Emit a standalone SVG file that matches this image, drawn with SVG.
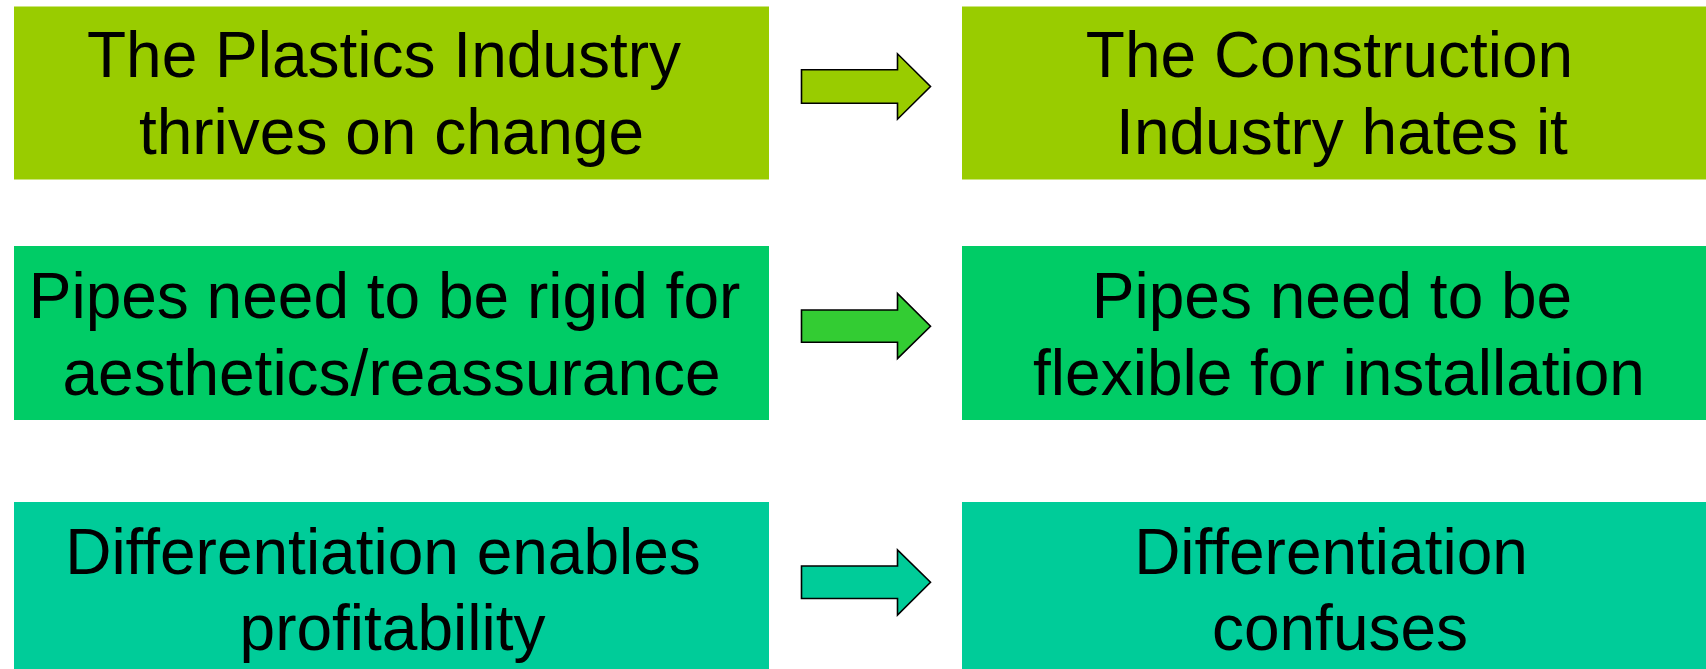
<svg xmlns="http://www.w3.org/2000/svg" width="1706" height="669" viewBox="0 0 1706 669">
<style>
.t{font-family:"Liberation Sans",Arial,sans-serif;font-size:64px;fill:#000;text-anchor:middle}
.a{stroke:#000;stroke-width:1.6;stroke-linejoin:miter}
.r1{fill:#99CC00}.r2{fill:#00CC66}.r3{fill:#00CC99}
</style>
<rect width="1706" height="669" fill="#fff"/>
<g id="plastics-change">
<rect class="r1" x="14" y="6.5" width="755" height="173"/>
<text class="t" x="384" y="77.3">The Plastics Industry</text>
<text class="t" x="391.5" y="154">thrives on change</text>
</g>
<g id="construction-hates">
<rect class="r1" x="962" y="6.5" width="755" height="173"/>
<text class="t" x="1329.5" y="77.3">The Construction</text>
<text class="t" x="1342" y="154">Industry hates it</text>
</g>
<g id="pipes-rigid">
<rect class="r2" x="14" y="246" width="755" height="174"/>
<text class="t" x="384.5" y="318.3">Pipes need to be rigid for</text>
<text class="t" x="391.5" y="395">aesthetics/reassurance</text>
</g>
<g id="pipes-flexible">
<rect class="r2" x="962" y="246" width="755" height="174"/>
<text class="t" x="1332" y="318.3">Pipes need to be</text>
<text class="t" x="1339" y="395">flexible for installation</text>
</g>
<g id="diff-profit">
<rect class="r3" x="14" y="502" width="755" height="174"/>
<text class="t" x="383" y="574.3">Differentiation enables</text>
<text class="t" x="392.5" y="650">profitability</text>
</g>
<g id="diff-confuses">
<rect class="r3" x="962" y="502" width="755" height="174"/>
<text class="t" x="1331" y="574.3">Differentiation</text>
<text class="t" x="1340" y="650">confuses</text>
</g>
<g id="connectors">
<path class="a" fill="#99CC00" d="M801.5,69.8 H897.5 V53.8 L930.5,86.5 L897.5,119.2 V103.2 H801.5 Z"/>
<path class="a" fill="#33CC33" d="M801.5,310 H897.5 V293.5 L930.5,326.3 L897.5,358.5 V342.3 H801.5 Z"/>
<path class="a" fill="#00CC99" d="M801.5,566 H897.5 V550 L930.5,582.3 L897.5,615 V598.5 H801.5 Z"/>
</g>
</svg>
